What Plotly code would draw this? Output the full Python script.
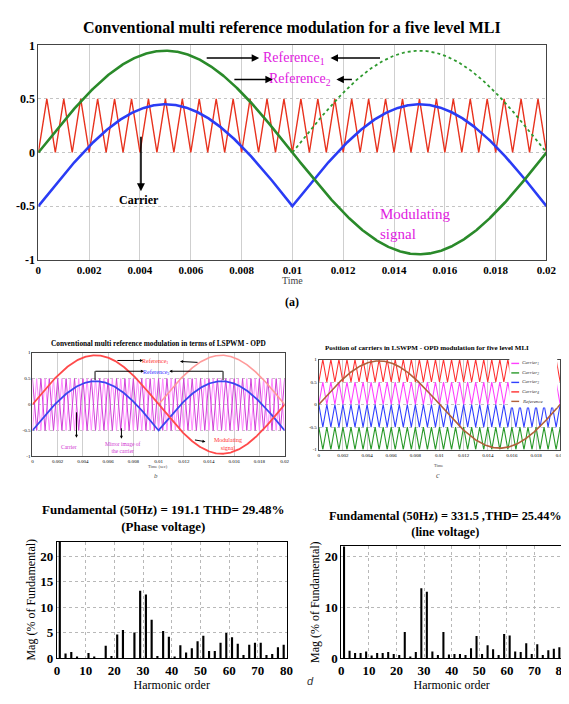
import numpy as np
import plotly.graph_objects as go

# ---------------- data ----------------
T_END = 0.02              # s, one fundamental period (50 Hz)
F_FUND = 50               # Hz
MOD_INDEX = 0.95          # modulating signal peak
REF_OFFSET = 0.5          # offset of reference 2
CARRIER_PERIODS = 30      # carrier cycles in 0.02 s
C_MOD_INDEX = 0.97        # reference peak in panel c

time_ticks = [0, 0.002, 0.004, 0.006, 0.008, 0.01, 0.012, 0.014, 0.016, 0.018, 0.02]
time_tick_labels = ["0", "0.002", "0.004", "0.006", "0.008", "0.01", "0.012", "0.014", "0.016", "0.018", "0.02"]
amp_ticks = [-1, -0.5, 0, 0.5, 1]
amp_tick_labels = ["-1", "-0.5", "0", "0.5", "1"]

# panel c carrier bands (low, high)
carrier_bands_c = {"Carrier<sub>1</sub>": (0, 0.5), "Carrier<sub>2</sub>": (-1, -0.5),
                   "Carrier<sub>3</sub>": (-0.5, 0), "Carrier<sub>4</sub>": (0.5, 1)}

harmonic_orders = list(range(1, 80, 2))
phase_mag = [100, 0.9, 1.2, 0.3, 0, 1.0, 0.3, 0, 2.4, 0.4, 4.6, 5.5, 0, 5.0, 13.2, 12.5, 7.5, 0.4, 5.3, 4.2,
             0.2, 2.5, 1.1, 1.9, 3.3, 4.4, 1.4, 1.4, 3.0, 4.9, 4.1, 2.8, 0.6, 2.6, 3.0, 3.0, 0.6, 0.8, 2.1, 2.6]
line_mag = [100, 1.4, 1.0, 1.0, 1.3, 0.5, 1.0, 1.0, 1.2, 0.8, 0.6, 5.1, 0.3, 1.2, 13.7, 13.0, 1.3, 0.6, 5.1, 0.7,
            0.8, 0.8, 0.6, 1.9, 4.3, 0.8, 2.5, 1.7, 0.6, 4.7, 4.4, 1.3, 1.2, 2.9, 0.8, 2.7, 0.6, 1.5, 1.8, 2.1]

# ---------------- waveforms ----------------
t = np.linspace(0, T_END, 801)
mod = MOD_INDEX * np.sin(2 * np.pi * F_FUND * t)
ref1 = MOD_INDEX * np.abs(np.sin(2 * np.pi * F_FUND * t))
ref2 = ref1 - REF_OFFSET
half = t >= T_END / 2

tc = np.linspace(0, T_END, 2 * CARRIER_PERIODS + 1)
def tri(lo, hi, inverted=False):
    v = np.where(np.arange(len(tc)) % 2 == 0, lo, hi)
    if inverted:
        v = np.where(np.arange(len(tc)) % 2 == 0, hi, lo)
    return v

W, H = 569, 704
def px(x):
    return x / W
def py(y):
    return 1 - y / H

SERIF = "Liberation Serif, Times New Roman, serif"
fig = go.Figure()

# ---------- panel a ----------
fig.add_trace(go.Scatter(x=tc, y=tri(0, 0.5), mode="lines", line=dict(color="#e8321e", width=1.4),
                         xaxis="x", yaxis="y", showlegend=False))
fig.add_trace(go.Scatter(x=t, y=ref2, mode="lines", line=dict(color="#2a3cf5", width=2.6),
                         xaxis="x", yaxis="y", showlegend=False))
fig.add_trace(go.Scatter(x=t[half], y=ref1[half], mode="lines", line=dict(color="#2f9a2f", width=1.8, dash="dot"),
                         xaxis="x", yaxis="y", showlegend=False))
fig.add_trace(go.Scatter(x=t, y=mod, mode="lines", line=dict(color="#2a8a2a", width=2.6),
                         xaxis="x", yaxis="y", showlegend=False))

# ---------- panel b ----------
fig.add_trace(go.Scatter(x=tc, y=tri(-0.5, 0.5), mode="lines", line=dict(color="#ff8cff", width=1),
                         xaxis="x2", yaxis="y2", showlegend=False))
fig.add_trace(go.Scatter(x=tc, y=tri(-0.5, 0.5, True), mode="lines", line=dict(color="#d040d8", width=1),
                         xaxis="x2", yaxis="y2", showlegend=False))
fig.add_trace(go.Scatter(x=t[half], y=ref1[half], mode="lines", line=dict(color="#ff9a9a", width=1.6),
                         xaxis="x2", yaxis="y2", showlegend=False))
fig.add_trace(go.Scatter(x=t, y=ref2, mode="lines", line=dict(color="#3a46f0", width=1.8),
                         xaxis="x2", yaxis="y2", showlegend=False))
fig.add_trace(go.Scatter(x=t, y=mod, mode="lines", line=dict(color="#ff4a4a", width=1.8),
                         xaxis="x2", yaxis="y2", showlegend=False))

# ---------- panel c ----------
c_colors = {"Carrier<sub>1</sub>": "#ff40ff", "Carrier<sub>2</sub>": "#2a9a2a",
            "Carrier<sub>3</sub>": "#3040ff", "Carrier<sub>4</sub>": "#ff3030"}
for name in ["Carrier<sub>4</sub>", "Carrier<sub>1</sub>", "Carrier<sub>3</sub>", "Carrier<sub>2</sub>"]:
    lo, hi = carrier_bands_c[name]
    fig.add_trace(go.Scatter(x=tc, y=tri(lo, hi, lo < 0), mode="lines", name=name,
                             line=dict(color=c_colors[name], width=1.1), xaxis="x3", yaxis="y3",
                             showlegend=False))
fig.add_trace(go.Scatter(x=t, y=C_MOD_INDEX * np.sin(2 * np.pi * F_FUND * t), mode="lines",
                         line=dict(color="#b0603a", width=1.6), xaxis="x3", yaxis="y3", showlegend=False))

# ---------- panel d ----------
fig.add_trace(go.Bar(x=harmonic_orders, y=phase_mag, width=0.75, marker=dict(color="black", line=dict(width=0)),
                     xaxis="x4", yaxis="y4", showlegend=False))
fig.add_trace(go.Bar(x=harmonic_orders, y=line_mag, width=0.75, marker=dict(color="black", line=dict(width=0)),
                     xaxis="x5", yaxis="y5", showlegend=False))

# ---------- axes ----------
def time_axis(dom, anchor, size, bold):
    return dict(domain=dom, anchor=anchor, range=[0, T_END], tickvals=time_ticks, ticktext=time_tick_labels,
                showgrid=True, gridcolor="#cfcfcf", gridwidth=1, showline=True, linecolor="#444", linewidth=1,
                mirror=True, ticks="", zeroline=False,
                tickfont=dict(family=SERIF, size=size, color="black", weight="bold" if bold else "normal"))

def amp_axis(dom, anchor, size, bold):
    return dict(domain=dom, anchor=anchor, range=[-1, 1], tickvals=amp_ticks, ticktext=amp_tick_labels,
                showgrid=True, gridcolor="#c4c4c4", griddash="dot", gridwidth=1, showline=True, linecolor="#444",
                linewidth=1, mirror=True, ticks="", zeroline=False,
                tickfont=dict(family=SERIF, size=size, color="black", weight="bold" if bold else "normal"))

layout = dict(
    width=W, height=H, margin=dict(l=0, r=0, t=0, b=0), paper_bgcolor="white", plot_bgcolor="white",
    showlegend=False,
    xaxis=time_axis([px(28), px(548)], "y", 11, True),
    yaxis=amp_axis([py(250), py(31)], "x", 12, True),
    xaxis2=time_axis([px(22), px(280)], "y2", 5, False),
    yaxis2=amp_axis([py(451), py(345)], "x2", 5, False),
    xaxis3=time_axis([px(315), px(562)], "y3", 5, False),
    yaxis3=amp_axis([py(444), py(352)], "x3", 5, False),
)
def harm_x(dom, anchor):
    return dict(domain=dom, anchor=anchor, range=[0, 80], tickvals=[0, 10, 20, 30, 40, 50, 60, 70, 80],
                showgrid=True, gridcolor="#b8b8b8", griddash="dot", showline=True, linecolor="black", mirror=True,
                ticks="", zeroline=False, tickfont=dict(family=SERIF, size=13, color="black", weight="bold"),
                title=dict(text="Harmonic order", font=dict(family=SERIF, size=12, color="black"), standoff=0))
def harm_y(dom, anchor, rmax, tv):
    return dict(domain=dom, anchor=anchor, range=[0, rmax], tickvals=tv,
                showgrid=True, gridcolor="#b8b8b8", griddash="dot", showline=True, linecolor="black", mirror=True,
                ticks="", zeroline=False, tickfont=dict(family=SERIF, size=13, color="black", weight="bold"),
                title=dict(text="Mag (% of Fundamental)", font=dict(family=SERIF, size=12, color="black"), standoff=2))
layout["xaxis4"] = harm_x([px(47), px(282)], "y4")
layout["yaxis4"] = harm_y([py(657), py(538)], "x4", 22.9, [0, 5, 10, 15, 20])
layout["xaxis5"] = harm_x([px(338), px(564)], "y5")
layout["yaxis5"] = harm_y([py(657), py(543)], "x5", 21.9, [0, 10, 20])
fig.update_layout(**layout)

ann = []
def text(x, y, s, size, color="black", bold=False, italic=False, align="center", xanchor="center"):
    if bold:
        s = "<b>" + s + "</b>"
    if italic:
        s = "<i>" + s + "</i>"
    ann.append(dict(x=px(x), y=py(y), xref="paper", yref="paper", text=s, showarrow=False, align=align,
                    xanchor=xanchor, yanchor="middle", font=dict(family=SERIF, size=size, color=color)))
def arrow(x0, y0, x1, y1, color="black", width=1.5, size=1.0):
    ann.append(dict(x=px(x1), y=py(y1), xref="paper", yref="paper", ax=x0 - x1, ay=y0 - y1, axref="pixel",
                    ayref="pixel", text="", showarrow=True, arrowhead=2, arrowsize=size, arrowwidth=width,
                    arrowcolor=color, font=dict(size=6)))

# panel a
text(288, 13, "Conventional multi reference modulation for a five level MLI", 16, bold=True)
text(290, 44, "Reference<sub>1</sub>", 14, color="#e020e0")
text(296, 66, "Reference<sub>2</sub>", 14, color="#e020e0")
arrow(200, 44, 254, 44)
arrow(378, 44, 327, 44)
arrow(228, 66, 268, 66)
arrow(350, 66, 333, 66)
arrow(133, 124, 133, 180, width=1.6)
text(131, 189, "Carrier", 12, bold=True)
text(376, 214, "Modulating<br>signal", 15, color="#e020e0", align="left", xanchor="left")
text(288, 271, "Time", 10, color="#444")
text(288, 293, "(a)", 12, bold=True)

# panel b
text(151, 336, "Conventional multi reference modulation in terms of LSPWM - OPD", 7.3, bold=True)
text(147, 354, "Reference<sub>1</sub>", 6, color="#ff3030")
text(148, 365, "Reference<sub>2</sub>", 6, color="#3030ff")
arrow(108, 353, 135, 353, width=1, size=0.6)
arrow(192, 355, 173, 354, width=1, size=0.6)
fig.add_shape(type="line", xref="paper", yref="paper", x0=px(86), y0=py(373), x1=px(86), y1=py(364),
              line=dict(color="black", width=1))
arrow(86, 364, 136, 364, width=1, size=0.6)
fig.add_shape(type="line", xref="paper", yref="paper", x0=px(217), y0=py(373), x1=px(217), y1=py(364),
              line=dict(color="black", width=1))
arrow(217, 364, 162, 364, width=1, size=0.6)
arrow(67, 405, 67, 432, width=1, size=0.6)
text(59, 441, "Carrier", 5.5, color="#d030d0")
arrow(113, 421, 113, 433, width=1, size=0.6)
text(115, 442, "Mirror image of<br>the carrier", 5.5, color="#d030d0")
arrow(187, 434, 199, 436, width=1, size=0.6)
text(222, 438, "Modulating<br>signal", 6, color="#ff3030")
text(150, 461, "Time (sec)", 4.5, color="#444")
text(148, 471, "b", 7, color="#555", italic=True)

# panel c
text(426, 340, "Position of carriers in LSWPM - OPD modulation for five level MLI", 7, bold=True)
text(437, 460, "Time", 4.5, color="#444")
text(437, 471, "c", 8, color="#555", italic=True)
# legend box for panel c
fig.add_shape(type="rect", xref="paper", yref="paper", x0=px(510), x1=px(559), y0=py(401), y1=py(351),
              fillcolor="white", line=dict(color="white", width=0), layer="above")
leg_items = [("Carrier<sub>1</sub>", "#ff40ff"), ("Carrier<sub>2</sub>", "#2a9a2a"), ("Carrier<sub>3</sub>", "#3040ff"),
             ("Carrier<sub>4</sub>", "#ff3030"), ("Reference", "#b0603a")]
for i, (nm, col) in enumerate(leg_items):
    yy = 356 + i * 9.7
    fig.add_shape(type="line", xref="paper", yref="paper", x0=px(512), x1=px(520), y0=py(yy), y1=py(yy),
                  line=dict(color=col, width=1.4), layer="above")
    text(521, yy, nm, 5, color="#333", italic=True, xanchor="left", align="left")

# panel d
text(156, 514, "Fundamental (50Hz) = 191.1 THD= 29.48%<br>(Phase voltage)", 13, bold=True)
text(445, 520, "Fundamental (50Hz) = 331.5 ,THD= 25.44%<br>(line voltage)", 12.3, bold=True)
ann.append(dict(x=px(307), y=py(689), xref="paper", yref="paper", text="<i>d</i>", showarrow=False,
                font=dict(family="Liberation Sans, Arial, sans-serif", size=11, color="#333")))

fig.update_layout(annotations=ann)
fig.write_html("out.html")
